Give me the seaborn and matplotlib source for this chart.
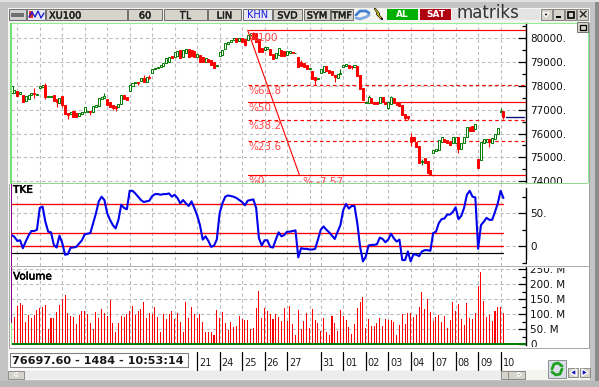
import matplotlib
matplotlib.use("Agg")
import matplotlib.pyplot as plt
from matplotlib.patches import Rectangle, Polygon
import matplotlib.patheffects as pe
import numpy as np
import pandas as pd
import seaborn as sns

sns.set_theme(style="white")
plt.rcParams["font.family"] = ["DejaVu Sans"]

# ── Data ───────────────────────────────────────────────────────────────────────
opens = [
    77718, 77718, 77788, 77662, 77620, 77368, 77452, 77620, 77690, 77620,
    77900, 77942, 78040, 77550, 77550, 77620, 77438, 77298, 77592, 77200,
    76878, 76808, 76962, 76850, 76738, 76808, 76892, 76892, 76948, 76920,
    77130, 77158, 77466, 77494, 77452, 77340, 77200, 77158, 77130, 77242,
    77620, 77522, 77802, 77998, 78110, 78180, 78208, 78348, 78166, 78362,
    78558, 78698, 78740, 78810, 78852, 78950, 79020, 79258, 79230, 79258,
    79510, 79202, 79398, 79552, 79510, 79482, 79230, 79300, 79202, 78992,
    79118, 79090, 78992, 78838, 79258, 79300, 79552, 79762, 79832, 79930,
    80000, 79888, 80000, 79958, 79930, 80140, 80238, 80210, 79958, 79580,
    79510, 79552, 79552, 79342, 79160, 79300, 79510, 79482, 79300, 79398,
    79440, 79370, 79230, 79020, 78950, 78880, 78712, 78642, 78362, 78292,
    78558, 78600, 78838, 78670, 78628, 78460, 78348, 78502, 78810, 78838,
    78880, 78852, 78810, 78852, 78460, 77900, 77270, 77270, 77480, 77340,
    77340, 77270, 77550, 77340, 77060, 77242, 77508, 77298, 77270, 77200,
    76822, 76752, 75870, 75842, 75660, 75478, 74792, 74960, 74834, 74470,
    75198, 75282, 75310, 75660, 75758, 75730, 75660, 75618, 75618, 75842,
    75338, 75590, 75870, 76262, 76318, 76178, 74918, 74890, 75618, 75646,
    75758, 75618, 75772, 75968, 76892, 76962,
]
closes = [
    77998, 77830, 77592, 77760, 77340, 77592, 77620, 77690, 77648, 77648,
    77998, 78026, 77550, 77578, 77578, 77368, 77340, 77508, 77200, 76808,
    76780, 76920, 76710, 76682, 76850, 76920, 77130, 76948, 76892, 77158,
    77200, 77480, 77522, 77578, 77200, 77130, 77088, 77060, 77242, 77620,
    77438, 77410, 78040, 78110, 78152, 78138, 78348, 78180, 78362, 78334,
    78712, 78740, 78810, 78880, 78950, 79160, 79230, 79188, 79440, 79468,
    79188, 79510, 79552, 79202, 79258, 79230, 79342, 79020, 79006, 79160,
    78992, 78880, 78740, 78880, 79440, 79510, 79790, 79860, 79930, 80028,
    79860, 80000, 79860, 79720, 80140, 80210, 79958, 79860, 79440, 79440,
    79622, 79622, 79300, 79118, 79370, 79580, 79258, 79258, 79468, 79454,
    79370, 79398, 78810, 78838, 78810, 78712, 78740, 78292, 78250, 78348,
    78698, 78838, 78642, 78530, 78460, 78362, 78502, 78558, 78866, 78908,
    78740, 78810, 78880, 78418, 77858, 77410, 77340, 77550, 77298, 77242,
    77242, 77550, 77340, 77242, 77340, 77522, 77298, 77186, 77172, 76780,
    76640, 76640, 75660, 75702, 75450, 74750, 74834, 74750, 74330, 74260,
    75310, 75338, 75730, 75842, 75660, 75590, 75520, 75842, 75842, 75338,
    75590, 75842, 76262, 76122, 76122, 76402, 74540, 75660, 75758, 75758,
    75660, 75800, 75968, 76248, 76948, 76682,
]
# only the bars whose wick sticks out of the body: index -> (high, low)
wicks = {
    8: (77900, 77480), 12: (78110, 77438), 16: (77438, 77130), 18: (77592, 77102),
    20: (76878, 76598), 28: (76948, 76780), 33: (77690, 77494), 36: (77200, 76990),
    37: (77158, 76948), 45: (78180, 78040), 47: (78460, 78180), 49: (78460, 78278),
    83: (79958, 79692), 86: (80280, 79958), 103: (79090, 78838), 108: (78362, 78026),
    115: (78460, 78180), 117: (78698, 78502), 121: (78852, 78698), 127: (77620, 77270),
    134: (77340, 77018), 135: (77580, 77242), 140: (76822, 76570), 141: (76752, 76570),
    142: (76038, 75478), 146: (74918, 74680), 159: (75842, 75198), 170: (75758, 75450),
    174: (77060, 76892), 175: (76962, 76598),
}
fib_levels = [80336, 78026, 77312, 76560, 75680, 74260]
fib_labels = ["%100", "%61.8", "%50", "%38.2", "%23.6", "%0"]
fib_styles = ["-", "--", "-", "--", "--", "-"]
fib_label_prices = [80010, 77780, 77070, 76300, 75430, 74010]
last_price = 76697.6

tke = [
    17, 14, 8, 9, -3, 7, 16, 23, 23, 25, 58, 60, 37, 22, 21, 2, -2, 16, 5, -13,
    -12, -2, -2, -1, 4, 9, 18, 19, 20, 35, 50, 68, 75, 70, 50, 40, 32, 27, 40, 63,
    58, 56, 84, 84, 80, 75, 70, 67, 68, 69, 76, 79, 79, 78, 79, 79, 80, 75, 78, 73,
    65, 70, 65, 61, 68, 58, 47, 32, 10, 15, 8, -1, 1, 10, 50, 65, 75, 77, 76, 75,
    73, 70, 67, 62, 69, 70, 71, 58, 12, 1, 9, 9, -1, -2, 10, 21, 15, 17, 22, 22,
    23, 24, -17,
    -3, -4, -4, -5, -5, -4, 10, 25, 30, 25, 21, 16, 11, 22, 32, 55, 64, 57, 61, 61,
    35, -1, -23, -16, 1, 2, 2, 3, 13, 11, 6, 10, 19, 12, 7, 10, -21, -21, -8, -23,
    -12, -13, -15, -8, -6, -6, -7, 20, 22, 35, 41, 42, 48, 48, 52, 59, 41, 46, 58, 78,
    84, 75, 74, -4, 32, 37, 43, 40, 40, 52, 65, 84, 73,
]
tke_levels = [64, 20, 0]
tke_floor = -10.5

volume = [
    0,
    92, 128, 137, 131, 76, 99, 89, 98, 114, 122, 124, 131, 51, 89, 89, 108, 131, 150, 164, 106,
    94, 92, 68, 98, 112, 111, 102, 70, 50, 109, 89, 117, 106, 94, 148, 70, 42, 72, 94, 90,
    100, 112, 128, 98, 111, 118, 142, 89, 106, 101, 126, 92, 41, 101, 83, 101, 112, 83, 103, 76,
    41, 142, 89, 126, 100, 89, 101, 76, 41, 41, 42, 31, 114, 87, 109, 70, 48, 76, 59, 62,
    94, 84, 81, 81, 51, 56, 120, 178, 89, 122, 112, 100, 84, 101, 90, 78, 120, 78, 128, 67,
    31, 114,
    51, 78, 106, 56, 118, 81, 70, 46, 89, 40, 31, 94, 70, 44, 114, 94, 81, 59, 34, 68,
    120, 141, 158, 53, 84, 62, 62, 70, 89, 62, 84, 80, 81, 74, 31, 64, 100, 68, 104, 106,
    91, 97, 126, 174, 118, 151, 108, 78, 90, 98, 74, 94, 54, 81, 141, 111, 134, 84, 64, 138,
    88, 84, 103, 194, 241, 144, 91, 98, 78, 111, 124, 126, 104,
]

grid_bars = [2, 10, 18, 26, 34, 42, 50, 58, 66, 74, 82, 90, 98, 106, 110, 118, 126, 134, 142, 150, 158, 166, 174]
day_bars = [66, 74, 82, 90, 98, 110, 118, 126, 134, 142, 150, 158, 166, 174]
day_labels = ["21", "24", "25", "26", "27", "31", "01", "02", "03", "04", "07", "08", "09", "10"]
toolbar_labels = ["60", "TL", "LIN", "KHN", "SVD", "SYM", "TMF"]

GREEN = "#007a00"
RED = "#ff0000"
GRID = "#bcbcbc"
W, H = 599, 387
X0, X1 = 11, 526


def bar_to_px(i):
    return 11.67 + 2.81 * i


def panel(y0, y1, ylim, zorder=2):
    """Chart axes placed by pixel box, sharing the bar-index x scale."""
    ax = fig.add_axes([X0 / W, 1 - y1 / H, (X1 - X0) / W, (y1 - y0) / H], zorder=zorder)
    ax.set_facecolor("none")
    ax.set_xlim((X0 - 11.67) / 2.81, (X1 - 11.67) / 2.81)
    ax.set_ylim(*ylim)
    for side in ["top", "left", "bottom"]:
        ax.spines[side].set_visible(False)
    ax.spines["right"].set_color("black")
    ax.spines["right"].set_linewidth(1)
    ax.set_xticks(grid_bars)
    ax.tick_params(axis="x", length=0, labelbottom=False)
    ax.yaxis.tick_right()
    ax.tick_params(axis="y", which="major", direction="in", length=5.5, width=0.9,
                   color="black", labelsize=7.5, labelcolor="#101010", pad=3)
    ax.tick_params(axis="y", which="minor", direction="in", length=3, width=0.9, color="black")
    ax.grid(True, which="major", color=GRID, linestyle=(0, (3, 2.5)), linewidth=0.8)
    ax.set_axisbelow(True)
    ax.set_xlabel("")
    ax.set_ylabel("")
    return ax


fig = plt.figure(figsize=(W / 100, H / 100), dpi=100)

# ── Window chrome behind the charts ────────────────────────────────────────────
bg = fig.add_axes([0, 0, 1, 1], zorder=0)
bg.set_xlim(0, W)
bg.set_ylim(H, 0)
bg.axis("off")


def rect(ax, x0, y0, x1, y1, fc, ec="none", lw=0, z=1):
    ax.add_patch(Rectangle((x0, y0), x1 - x0, y1 - y0, facecolor=fc, edgecolor=ec, linewidth=lw, zorder=z))


rect(bg, 0, 0, W, H, "#c4c4c4")
rect(bg, 595, 0, W, H, "#8c8c8c")
rect(bg, 0, 0, W, 2, "#e0e0e0")
rect(bg, 8, 8, 590, 380, "#f4f4f0")
rect(bg, 0, 381, W, 387, "#b8b8b8")
rect(bg, 10, 23, 589, 348, "white")
rect(bg, 9, 349, 590, 370, "white")

BTN = "#d6d4ca"
btn_stroke = [pe.withStroke(linewidth=0.35, foreground="#202020")]
buttons = [(46, 127), (128, 162), (164, 207), (208, 241), (243, 272), (273, 302), (304, 330), (331, 353)]
for x0, x1 in buttons:
    rect(bg, x0, 9, x1, 20, "#e8e8f0" if x0 == 243 else BTN, ec="#404040", lw=0.5)
bg.text(49, 15.5, "XU100", fontsize=7, color="#202020", va="center", zorder=3, path_effects=btn_stroke)
label_boxes = buttons[1:]
for (x0, x1), label in zip(label_boxes, toolbar_labels):
    if label == "KHN":
        bg.text((x0 + x1) / 2, 15.5, label, fontsize=7, va="center", ha="center", color="#1818e0", zorder=3)
    else:
        bg.text((x0 + x1) / 2, 15.5, label, fontsize=7, va="center", ha="center", color="#202020", zorder=3,
                path_effects=btn_stroke)

# left icons
rect(bg, 9, 9, 26, 20, "#d0d0d0", ec="#404040", lw=0.5)
rect(bg, 11, 13, 24, 17, "#707070")
rect(bg, 27, 9, 45, 20, "#e8e8f0", ec="#404040", lw=0.5)
rect(bg, 29, 11, 33, 18, "#e03030", z=1.5)
bg.plot([29, 32, 35, 38, 41, 44], [17, 12, 17, 11, 18, 13], color="#1010d0", lw=0.9, zorder=2)

# refresh and lightning icons
bg.plot([356, 360, 366, 369], [15, 11, 11, 13], color="#4080d0", lw=2, zorder=2)
bg.plot([356, 360, 366, 369], [18, 19, 17, 15], color="#80a8e0", lw=2, zorder=2)
bg.plot([375, 379, 377, 382], [9, 14, 14, 19], color="black", lw=1.6, zorder=2)
bg.plot([375, 379, 377, 381], [9, 14, 14, 18], color="#f0e020", lw=0.7, zorder=3)

# buy / sell buttons and logo
rect(bg, 387, 9, 418, 19.5, "#00b000")
bg.text(402.5, 14.2, "AL", fontsize=6.5, fontweight="bold", color="white", ha="center", va="center", zorder=3)
rect(bg, 420, 9, 451, 19.5, "#b00010")
bg.text(435.5, 14.2, "SAT", fontsize=6.5, fontweight="bold", color="white", ha="center", va="center", zorder=3)
rect(bg, 452, 9, 540, 20, "#e4e4e4")
bg.text(456, 13.5, "matriks", fontsize=12, color="#303030", va="center", zorder=3)

# window buttons
for x0 in [541, 553, 565, 577]:
    rect(bg, x0, 9, x0 + 11, 20, BTN, ec="#606060", lw=0.5)
bg.add_patch(Polygon([[543, 13], [549, 13], [546, 17]], facecolor="black", zorder=3))
rect(bg, 556, 16, 561, 18, "black", z=3)
rect(bg, 567.5, 11.5, 573.5, 17.5, "none", ec="black", lw=1.2, z=3)
bg.text(582.5, 14.5, "×", fontsize=9, fontweight="bold", ha="center", va="center", zorder=3)

# ── Price panel ────────────────────────────────────────────────────────────────
ax_price = panel(23, 183, (73924, 80644))
bars = np.arange(len(opens))
ax_price.set_yticks(np.arange(74000, 80001, 1000))
ax_price.set_yticks(np.arange(74500, 80600, 500), minor=True)
ax_price.set_yticklabels([f"{v}." for v in range(74000, 80001, 1000)])
ax_price.spines["right"].set_bounds(73924, 80644)

for lvl, style in zip(fib_levels, fib_styles):
    ax_price.plot([84, 183], [lvl, lvl], color=RED, lw=0.85, linestyle="-" if style == "-" else (0, (3, 2.5)), zorder=3)
ax_price.plot([84, 102.4], [fib_levels[0], fib_levels[-1]], color=RED, lw=0.8, zorder=3)
ax_price.plot([175.8, 182.5], [last_price, last_price], color="#101080", lw=1.0, zorder=3)

for i, (o, c) in enumerate(zip(opens, closes)):
    up = c >= o
    color = GREEN if up else RED
    hi, lo = wicks.get(i, (max(o, c), min(o, c)))
    ax_price.vlines(i, lo, hi, color=color, lw=0.8, zorder=4)
    ax_price.bar(i, abs(c - o), bottom=min(o, c), width=0.72,
                 facecolor="white" if up else RED, edgecolor=color, linewidth=0.7, zorder=5)

for lvl, label in zip(fib_label_prices, fib_labels):
    ax_price.text(84.1, lvl, label, color="#ff4848", fontsize=7.5, va="center", clip_on=True, zorder=6)
ax_price.text(103.6, 73970, "% -7.57", color="#ff4848", fontsize=7.5, va="center", clip_on=True, zorder=6)

# ── TKE panel ──────────────────────────────────────────────────────────────────
ax_tke = panel(184, 266, (-30, 94.3))
ax_tke.set_yticks([0, 50])
ax_tke.set_yticklabels(["0", "50."])
ax_tke.set_yticks([-25, 25, 75], minor=True)
ax_tke.spines["right"].set_bounds(-25.3, 88)
tke_df = pd.DataFrame({"bar": np.arange(len(tke)), "tke": tke})
for lvl in tke_levels:
    ax_tke.plot([0, 175], [lvl, lvl], color=RED, lw=0.95, zorder=3)
ax_tke.plot([0, 175], [tke_floor, tke_floor], color="black", lw=0.85, zorder=3)
sns.lineplot(data=tke_df, x="bar", y="tke", color="#0000ee", linewidth=1.5, ax=ax_tke, zorder=4)
ax_tke.set_xlabel("")
ax_tke.set_ylabel("")
label_stroke = [pe.withStroke(linewidth=0.4, foreground="black")]
ax_tke.text(0.5, 85.5, "TKE", fontsize=7.5, color="black", va="center", path_effects=label_stroke)

# ── Volume panel ───────────────────────────────────────────────────────────────
ax_vol = panel(267, 345, (-2.3, 257.7))
vol_df = pd.DataFrame({"bar": np.arange(len(volume)), "volume": volume})
sns.barplot(data=vol_df, x="bar", y="volume", native_scale=True, color=RED, saturation=1,
            width=0.37, edgecolor="none", linewidth=0, ax=ax_vol, zorder=3)
for bar_patch in ax_vol.patches:
    bar_patch.set_antialiased(False)   # keeps every bar one crisp pixel wide
ax_vol.set_xlim((X0 - 11.67) / 2.81, (X1 - 11.67) / 2.81)
ax_vol.set_xticks(grid_bars)
ax_vol.set_xticklabels([])
ax_vol.set_xlabel("")
ax_vol.set_ylabel("")
ax_vol.set_yticks([0, 50, 100, 150, 200, 250])
ax_vol.set_yticklabels(["0", "50. M", "100. M", "150. M", "200. M", "250. M"])
ax_vol.set_yticks([25, 75, 125, 175, 225], minor=True)
ax_vol.axhline(0, color=GREEN, lw=1.4, zorder=4)
ax_vol.text(0.5, 226, "Volume", fontsize=7.5, color="black", va="center", path_effects=label_stroke)

# ── Borders, masks and status strip on top ─────────────────────────────────────
top = fig.add_axes([0, 0, 1, 1], zorder=10)
top.set_xlim(0, W)
top.set_ylim(H, 0)
top.axis("off")
top.patch.set_visible(False)

rect(top, 527, 183.5, 588, 188, "white")
rect(top, 527, 260, 588, 268.4, "white")
rect(top, 527, 347, 588, 349, "white")
rect(top, 10, 23, 588, 24, "#90ee90")
rect(top, 10, 182.5, 588, 184, "#90d890")
rect(top, 10, 23, 11.5, 183, "#70e070")
rect(top, 587.5, 23, 589, 183, "#90ee90")
rect(top, 11, 184, 11.9, 266, "#800080")
rect(top, 11, 267, 11.9, 345, "#800080")
rect(top, 11, 323, 11.9, 345, "#90ee90")
rect(top, 9, 265.8, 589, 267, "#b0b0b0")
rect(top, 9, 347.5, 590, 349, "#a8a8a8")
rect(top, 9, 184, 10, 348, "#a8a8a8")
rect(top, 589, 23, 590, 348, "#a0a0a0")
rect(top, 577, 22, 588, 32, "#d6d4ca", ec="#606060", lw=0.6)
rect(top, 579.5, 24.5, 585.5, 29.5, "none", ec="black", lw=0.9)

# status box
rect(top, 10, 353, 187.5, 367, "white", ec="#808080", lw=0.8)
top.text(11.5, 360.5, "76697.60 - 1484 - 10:53:14", fontsize=8.1, fontweight="bold", color="#181818", va="center")

# day ticks and labels
for i, label in zip(day_bars, day_labels):
    x = bar_to_px(i)
    top.plot([x, x], [352, 370], color="black", lw=0.9)
    top.text(x + 2, 363.5, label, fontsize=7, color="#202020", va="center")

# scrollbar
rect(top, 24, 370.5, 501, 379, "#ececec")
rect(top, 8, 370.5, 24, 378.5, "#d6d4ca", ec="#808080", lw=0.6)
top.add_patch(Polygon([[14, 374.5], [17, 372.5], [17, 376.5]], facecolor="black", zorder=3))
rect(top, 501, 370.5, 525, 378.5, "#d6d4ca", ec="#808080", lw=0.6)
rect(top, 508, 370.5, 525, 378.5, "#d6d4ca", ec="#808080", lw=0.6)
top.add_patch(Polygon([[518, 372.5], [518, 376.5], [521, 374.5]], facecolor="black", zorder=3))

# refresh and page buttons
rect(top, 548, 360, 566, 378, "#d8dfe8", ec="#808080", lw=0.6)
top.plot([552, 554, 558, 562], [369, 364, 363, 366], color="#20a020", lw=2)
top.plot([562, 560, 556, 552], [369, 374, 375, 372], color="#20a020", lw=2)
rect(top, 568, 368, 578, 377, "#d6d4ca", ec="#808080", lw=0.6)
top.add_patch(Polygon([[570, 372.5], [576, 369], [576, 376]], facecolor="#1010c0", zorder=3))
rect(top, 580, 368, 590, 377, "#d6d4ca", ec="#808080", lw=0.6)
top.add_patch(Polygon([[588, 372.5], [582, 369], [582, 376]], facecolor="#1010c0", zorder=3))

fig.savefig("out.png", dpi=100)
